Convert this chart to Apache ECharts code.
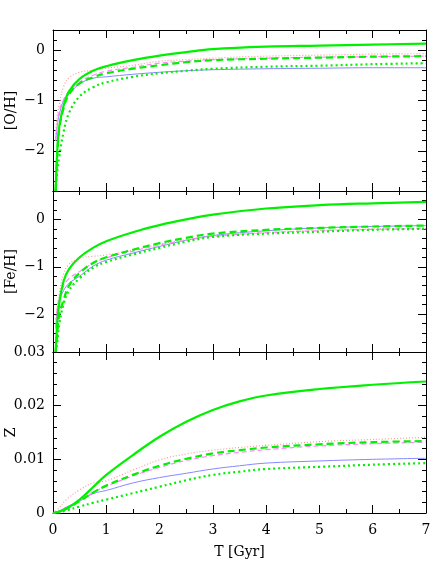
<!DOCTYPE html>
<html>
<head>
<meta charset="utf-8">
<style>
  html, body { margin:0; padding:0; background:#fff; }
  #chart { width:436px; height:581px; }
</style>
<script src="https://cdn.jsdelivr.net/npm/echarts@6/dist/echarts.min.js"></script>
</head>
<body>
<div id="chart"></div>
<script>
// time grids (Gyr)
var tAbund = [0.05, 0.08, 0.12, 0.2, 0.3, 0.5, 0.75, 1, 1.5, 2, 2.5, 3, 4, 5, 6, 7];
var tZ     = [0, 0.1, 0.25, 0.5, 0.75, 1, 1.5, 2, 2.5, 3, 3.5, 4, 5, 6, 7];

// [O/H]
var ohSolid   = [-2.8, -2.0, -1.5, -1.1, -0.82, -0.57, -0.41, -0.32, -0.2, -0.11, -0.04, 0.02, 0.07, 0.09, 0.11, 0.13];
var ohDashed  = [-2.8, -2.1, -1.55, -1.15, -0.88, -0.66, -0.54, -0.46, -0.37, -0.3, -0.24, -0.2, -0.17, -0.15, -0.13, -0.12];
var ohDotted  = [-2.8, -2.4, -2.1, -1.62, -1.25, -0.92, -0.74, -0.64, -0.53, -0.46, -0.41, -0.37, -0.33, -0.31, -0.28, -0.26];
var ohBlue    = [-1.8, -1.5, -1.27, -1.0, -0.88, -0.67, -0.56, -0.53, -0.48, -0.44, -0.41, -0.39, -0.37, -0.36, -0.35, -0.35];
var ohRed     = [-1.66, -1.3, -1.07, -0.72, -0.55, -0.44, -0.4, -0.36, -0.3, -0.22, -0.19, -0.16, -0.12, -0.1, -0.08, -0.07];
var ohMagenta = [-1.8, -1.45, -1.2, -0.98, -0.82, -0.64, -0.5, -0.42, -0.34, -0.26, -0.22, -0.19, -0.16, -0.14, -0.13, -0.12];

// [Fe/H]
var feSolid   = [-2.8, -2.2, -1.75, -1.3, -1.05, -0.8, -0.6, -0.46, -0.27, -0.12, 0.0, 0.1, 0.23, 0.3, 0.34, 0.37];
var feDashed  = [-2.8, -2.4, -2.0, -1.7, -1.4, -1.13, -0.92, -0.8, -0.64, -0.5, -0.39, -0.3, -0.22, -0.18, -0.15, -0.13];
var feDotted  = [-2.8, -2.6, -2.2, -1.78, -1.5, -1.24, -1.02, -0.9, -0.74, -0.6, -0.47, -0.37, -0.3, -0.26, -0.22, -0.2];
var feBlue    = [-2.3, -1.95, -1.72, -1.5, -1.35, -1.2, -0.99, -0.86, -0.71, -0.57, -0.44, -0.34, -0.24, -0.18, -0.15, -0.13];
var feRed     = [-2.1, -1.85, -1.55, -1.15, -0.95, -0.82, -0.78, -0.75, -0.65, -0.52, -0.43, -0.36, -0.28, -0.23, -0.2, -0.18];
var feMagenta = [-2.3, -1.9, -1.65, -1.4, -1.25, -1.1, -0.93, -0.81, -0.67, -0.54, -0.44, -0.36, -0.28, -0.24, -0.21, -0.2];

// Z
var zSolid   = [0, 0.0002, 0.0008, 0.0025, 0.0048, 0.0071, 0.0108, 0.0142, 0.017, 0.0192, 0.0208, 0.0219, 0.0231, 0.0239, 0.0245];
var zDashed  = [0, 0.0002, 0.0008, 0.0022, 0.0038, 0.0051, 0.0071, 0.0088, 0.0101, 0.0111, 0.0117, 0.0122, 0.0128, 0.0132, 0.0134];
var zDotted  = [0, 0.0001, 0.0005, 0.0012, 0.0019, 0.0025, 0.0037, 0.0049, 0.0061, 0.0071, 0.0077, 0.0082, 0.0086, 0.009, 0.0093];
var zBlue    = [0, 0.0003, 0.0011, 0.0022, 0.0036, 0.0042, 0.0056, 0.0066, 0.0074, 0.0082, 0.0088, 0.0093, 0.0097, 0.01, 0.0102];
var zRed     = [0, 0.0008, 0.0025, 0.0043, 0.0056, 0.006, 0.008, 0.0099, 0.011, 0.0117, 0.0122, 0.0126, 0.0133, 0.0137, 0.0141];
var zMagenta = [0, 0.0003, 0.001, 0.0023, 0.0038, 0.005, 0.0069, 0.0085, 0.0098, 0.0107, 0.0113, 0.0118, 0.0125, 0.0129, 0.0132];

// tick labels
var tTicks  = [0, 1, 2, 3, 4, 5, 6, 7];
var ohTicks = [-2, -1, 0];
var feTicks = [-2, -1, 0];
var zTicks  = [0, 0.01, 0.02, 0.03];

var FONT = 'DejaVu Serif';
var chart = echarts.init(document.getElementById('chart'));

var grids = [
  {left:53, right:10, top:30,  height:161, containLabel:false, outerBoundsMode:'none'},
  {left:53, right:10, top:191, height:161, containLabel:false, outerBoundsMode:'none'},
  {left:53, right:10, top:352, height:161, containLabel:false, outerBoundsMode:'none'}
];

var lineBlack = {show:true, onZero:false, lineStyle:{color:'#000', width:1}};

function fmtMinus(v){ return v < 0 ? '\u2212' + Math.abs(v) : String(v); }
function fmtZ(v){ return v === 0 ? '0' : v.toFixed(2); }

var xAxes = [], yAxes = [];
[0,1,2].forEach(function(g){
  ['bottom','top'].forEach(function(pos){
    var lab = (g===2 && pos==='bottom');
    xAxes.push({
      type:'value', gridIndex:g, position:pos, min:0, max:7, interval:1,
      axisLine:lineBlack,
      axisTick:{show:true, inside:true, length:8, lineStyle:{color:'#000'}},
      minorTick:{show:true, splitNumber:2, length:4, lineStyle:{color:'#000'}},
      splitLine:{show:false},
      axisLabel:{show:lab, customValues:tTicks, margin:10, color:'#000', fontFamily:FONT, fontSize:14},
      name:lab ? 'T [Gyr]' : '',
      nameLocation:'middle', nameGap:32, nameMoveOverlap:false,
      nameTextStyle:{color:'#000', fontFamily:FONT, fontSize:14}
    });
  });
});

// each panel: major axis (labels + long ticks) and minor axis (short ticks), on both sides
function addY(g, min, max, ticks, step, name, fmt){
  var first = yAxes.length;
  ['left','right'].forEach(function(pos){
    yAxes.push({
      type:'value', gridIndex:g, position:pos, min:min, max:max,
      axisLine:lineBlack,
      axisTick:{show:true, inside:true, length:8, customValues:ticks, lineStyle:{color:'#000'}},
      axisLabel:{show:pos==='left', customValues:ticks, formatter:fmt, margin:8,
                 color:'#000', fontFamily:FONT, fontSize:14},
      splitLine:{show:false},
      name:pos==='left' ? name : '',
      nameLocation:'middle', nameGap:pos==='left' ? 35 : 0, nameRotate:90,
      nameMoveOverlap:false,
      nameTextStyle:{color:'#000', fontFamily:FONT, fontSize:14}
    });
    yAxes.push({
      type:'value', gridIndex:g, position:pos, min:min, max:max, interval:step,
      axisLine:{show:false, onZero:false},
      axisTick:{show:true, inside:true, length:4, lineStyle:{color:'#000'}},
      axisLabel:{show:false}, splitLine:{show:false}
    });
  });
  return first;
}

var yOH = addY(0, -2.8, 0.4, ohTicks, 0.2, '[O/H]', fmtMinus);
var yFE = addY(1, -2.8, 0.6, feTicks, 0.2, '[Fe/H]', fmtMinus);
var yZ  = addY(2, 0, 0.03, zTicks, 0.002, 'Z', fmtZ);

var styles = {
  blue:    {color:'#8888ff', width:1,   type:'solid'},
  red:     {color:'#ff9999', width:1.2, type:[1,2]},
  magenta: {color:'#ff88ff', width:1.2, type:[5,3]},
  dotted:  {color:'#00f000', width:2.2, type:[2,3]},
  dashed:  {color:'#00f000', width:2.2, type:[7,4]},
  solid:   {color:'#00f000', width:2.2, type:'solid'}
};

var series = [];
function add(g, yi, ts, vals, st){
  series.push({
    type:'line', xAxisIndex:g*2, yAxisIndex:yi,
    data:ts.map(function(t,k){ return [t, vals[k]]; }),
    showSymbol:false, smooth:0.4, silent:true,
    lineStyle:styles[st], z:(st==='solid'||st==='dashed'||st==='dotted') ? 3 : 2
  });
}
[[0, yOH, tAbund, [ohBlue, ohRed, ohMagenta, ohDotted, ohDashed, ohSolid]],
 [1, yFE, tAbund, [feBlue, feRed, feMagenta, feDotted, feDashed, feSolid]],
 [2, yZ,  tZ,     [zBlue, zRed, zMagenta, zDotted, zDashed, zSolid]]
].forEach(function(p){
  var keys = ['blue','red','magenta','dotted','dashed','solid'];
  p[3].forEach(function(v,i){ add(p[0], p[1], p[2], v, keys[i]); });
});

chart.setOption({
  animation:false,
  backgroundColor:'#fff',
  grid:grids,
  xAxis:xAxes,
  yAxis:yAxes,
  series:series
});
</script>
</body>
</html>
